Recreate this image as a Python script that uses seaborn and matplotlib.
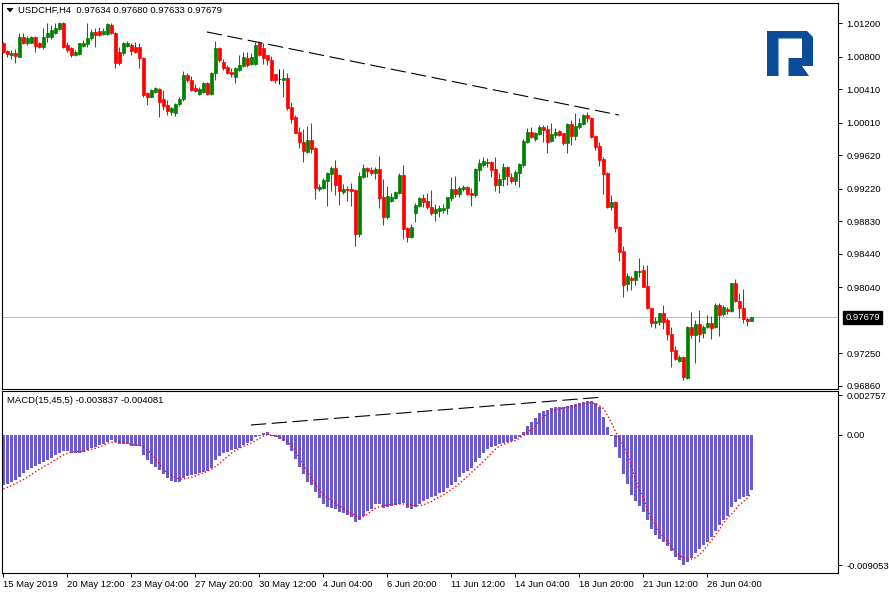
import matplotlib
matplotlib.use("Agg")
import numpy as np
import pandas as pd
import matplotlib.pyplot as plt
from matplotlib.patches import Polygon
import seaborn as sns

# ---------------------------------------------------------------
# DATA  (USDCHF H4, one value per bar)
# ---------------------------------------------------------------
SYMBOL = "USDCHF,H4"

OPEN = [
    1.00968, 1.00872, 1.00820, 1.00841, 1.00800, 1.01039, 1.00960, 1.00968, 1.01032, 1.00960,
    1.00920, 1.01032, 1.01039, 1.01080, 1.01128, 1.01207, 1.00940, 1.00900, 1.00820, 1.00832,
    1.00928, 1.00952, 1.01020, 1.01099, 1.01111, 1.01072, 1.01072, 1.01180, 1.01087, 1.00860,
    1.00841, 1.00928, 1.00940, 1.00920, 1.00920, 1.00781, 1.00361, 1.00321, 1.00380, 1.00409,
    1.00289, 1.00221, 1.00141, 1.00122, 1.00233, 1.00289, 1.00581, 1.00521, 1.00421, 1.00353,
    1.00380, 1.00488, 1.00353, 1.00601, 1.00900, 1.00740, 1.00680, 1.00620, 1.00560, 1.00640,
    1.00688, 1.00781, 1.00712, 1.00712, 1.00960, 1.00900, 1.00820, 1.00760, 1.00593, 1.00529,
    1.00521, 1.00541, 1.00194, 1.00074, 0.99901, 0.99781, 0.99662, 0.99802, 0.99702, 0.99215,
    0.99223, 0.99311, 0.99395, 0.99470, 0.99383, 0.99182, 0.99211, 0.99215, 0.99203, 0.98676,
    0.99355, 0.99470, 0.99442, 0.99410, 0.99454, 0.99123, 0.98876, 0.99071, 0.99111, 0.99171,
    0.99383, 0.98751, 0.98636, 0.98924, 0.99011, 0.99103, 0.99071, 0.98996, 0.98931, 0.98955,
    0.98963, 0.98984, 0.99111, 0.99215, 0.99155, 0.99215, 0.99242, 0.99171, 0.99143, 0.99442,
    0.99502, 0.99530, 0.99542, 0.99454, 0.99263, 0.99331, 0.99482, 0.99362, 0.99311, 0.99410,
    0.99502, 0.99781, 0.99894, 0.99810, 0.99874, 0.99961, 0.99930, 0.99793, 0.99862, 0.99910,
    0.99882, 0.99770, 0.99994, 0.99850, 0.99961, 0.99994, 1.00101, 1.00062, 0.99850, 0.99730,
    0.99571, 0.99410, 0.99003, 0.99063, 0.98763, 0.98472, 0.98077, 0.98145, 0.98125, 0.98224,
    0.98244, 0.98053, 0.97786, 0.97606, 0.97625, 0.97726, 0.97645, 0.97478, 0.97286, 0.97158,
    0.97206, 0.96947, 0.97558, 0.97466, 0.97598, 0.97493, 0.97558, 0.97606, 0.97558, 0.97825,
    0.97717, 0.97777, 0.97757, 0.98085, 0.97873, 0.97786, 0.97657, 0.97634,
]
HIGH = [
    1.00979, 1.00880, 1.00880, 1.00888, 1.01080, 1.01087, 1.01048, 1.01048, 1.01048, 1.00979,
    1.01140, 1.01207, 1.01180, 1.01207, 1.01219, 1.01219, 1.00979, 1.00920, 1.00880, 1.00968,
    1.01000, 1.01200, 1.01128, 1.01140, 1.01159, 1.01140, 1.01207, 1.01200, 1.01099, 1.00920,
    1.00979, 1.00991, 1.00968, 1.00979, 1.00960, 1.00793, 1.00380, 1.00409, 1.00433, 1.00421,
    1.00401, 1.00281, 1.00201, 1.00242, 1.00313, 1.00632, 1.00601, 1.00569, 1.00473, 1.00433,
    1.00500, 1.00500, 1.00620, 1.00991, 1.00920, 1.00769, 1.00700, 1.00661, 1.00680, 1.00820,
    1.00860, 1.00860, 1.00841, 1.00979, 1.00991, 1.00968, 1.00820, 1.00808, 1.00593, 1.00649,
    1.00649, 1.00608, 1.00261, 1.00101, 0.99958, 0.99934, 0.99970, 1.00002, 0.99714, 0.99271,
    0.99343, 0.99422, 0.99490, 0.99562, 0.99395, 0.99271, 0.99254, 0.99283, 0.99211, 0.99422,
    0.99514, 0.99482, 0.99482, 0.99482, 0.99610, 0.99331, 0.99251, 0.99171, 0.99194, 0.99410,
    0.99502, 0.98763, 0.98796, 0.99044, 0.99115, 0.99155, 0.99171, 0.99203, 0.99035, 0.99023,
    0.99035, 0.99123, 0.99362, 0.99371, 0.99251, 0.99263, 0.99251, 0.99223, 0.99463, 0.99571,
    0.99595, 0.99583, 0.99554, 0.99595, 0.99403, 0.99523, 0.99490, 0.99403, 0.99442, 0.99530,
    0.99810, 0.99942, 0.99954, 0.99901, 0.99982, 0.99982, 0.99982, 1.00009, 0.99942, 0.99922,
    0.99889, 1.00009, 1.00041, 1.00129, 1.00062, 1.00113, 1.00141, 1.00074, 0.99862, 0.99781,
    0.99595, 0.99422, 0.99143, 0.99075, 0.98772, 0.98532, 0.98212, 0.98173, 0.98244, 0.98385,
    0.98304, 0.98304, 0.97790, 0.97685, 0.97733, 0.97825, 0.97666, 0.97558, 0.97334, 0.97226,
    0.97214, 0.97574, 0.97745, 0.97645, 0.97765, 0.97586, 0.97705, 0.97693, 0.97853, 0.97853,
    0.97825, 0.97805, 0.98092, 0.98133, 0.97965, 0.98013, 0.97685, 0.97680,
]
LOW = [
    1.00841, 1.00800, 1.00772, 1.00728, 1.00793, 1.00952, 1.00940, 1.00960, 1.00860, 1.00900,
    1.00888, 1.00979, 1.01008, 1.01072, 1.01120, 1.00900, 1.00860, 1.00800, 1.00808, 1.00820,
    1.00920, 1.00920, 1.01000, 1.00912, 1.01048, 1.01060, 1.01060, 1.01072, 1.00661, 1.00700,
    1.00820, 1.00920, 1.00820, 1.00848, 1.00661, 1.00321, 1.00221, 1.00313, 1.00369, 1.00081,
    1.00161, 1.00101, 1.00101, 1.00089, 1.00209, 1.00273, 1.00500, 1.00392, 1.00380, 1.00341,
    1.00369, 1.00341, 1.00341, 1.00521, 1.00740, 1.00640, 1.00593, 1.00553, 1.00488, 1.00632,
    1.00680, 1.00680, 1.00700, 1.00700, 1.00808, 1.00712, 1.00700, 1.00512, 1.00481, 1.00473,
    1.00313, 1.00161, 1.00002, 0.99886, 0.99706, 0.99542, 0.99650, 0.99643, 0.99091, 0.99194,
    0.99211, 0.99011, 0.99194, 0.99143, 0.99023, 0.99155, 0.99075, 0.99011, 0.98532, 0.98636,
    0.99343, 0.99362, 0.99383, 0.99331, 0.98984, 0.98784, 0.98852, 0.99063, 0.99099, 0.99155,
    0.98612, 0.98583, 0.98624, 0.98823, 0.99003, 0.98996, 0.98972, 0.98903, 0.98835, 0.98883,
    0.98924, 0.98915, 0.99075, 0.99115, 0.99115, 0.99194, 0.99143, 0.99011, 0.99115, 0.99314,
    0.99475, 0.99475, 0.99355, 0.99194, 0.99171, 0.99251, 0.99263, 0.99290, 0.99263, 0.99242,
    0.99475, 0.99770, 0.99822, 0.99793, 0.99862, 0.99781, 0.99650, 0.99781, 0.99822, 0.99850,
    0.99742, 0.99650, 0.99742, 0.99802, 0.99930, 0.99982, 1.00021, 0.99822, 0.99682, 0.99490,
    0.99155, 0.98993, 0.98963, 0.98703, 0.98356, 0.97917, 0.97996, 0.98005, 0.98065, 0.98164,
    0.98037, 0.97780, 0.97558, 0.97546, 0.97586, 0.97534, 0.97406, 0.97086, 0.97166, 0.97146,
    0.96927, 0.96939, 0.97426, 0.97134, 0.97385, 0.97426, 0.97546, 0.97414, 0.97546, 0.97454,
    0.97693, 0.97717, 0.97745, 0.97865, 0.97666, 0.97613, 0.97574, 0.97633,
]
CLOSE = [
    1.00860, 1.00832, 1.00841, 1.00808, 1.01039, 1.00960, 1.01020, 1.01032, 1.00928, 1.00912,
    1.01039, 1.01080, 1.01120, 1.01140, 1.01207, 1.00920, 1.00880, 1.00820, 1.00860, 1.00960,
    1.00968, 1.01020, 1.01099, 1.01060, 1.01060, 1.01111, 1.01192, 1.01080, 1.00728, 1.00728,
    1.00960, 1.00968, 1.00872, 1.00860, 1.00781, 1.00341, 1.00321, 1.00401, 1.00421, 1.00261,
    1.00209, 1.00153, 1.00182, 1.00233, 1.00289, 1.00581, 1.00521, 1.00401, 1.00392, 1.00409,
    1.00488, 1.00353, 1.00608, 1.00900, 1.00760, 1.00661, 1.00608, 1.00593, 1.00661, 1.00700,
    1.00800, 1.00700, 1.00800, 1.00940, 1.00820, 1.00781, 1.00760, 1.00521, 1.00521, 1.00529,
    1.00541, 1.00182, 1.00050, 0.99889, 0.99781, 0.99674, 0.99802, 0.99690, 0.99223, 0.99242,
    0.99323, 0.99410, 0.99470, 0.99263, 0.99191, 0.99215, 0.99199, 0.99191, 0.98676, 0.99371,
    0.99463, 0.99430, 0.99403, 0.99454, 0.99111, 0.98883, 0.99131, 0.99115, 0.99182, 0.99383,
    0.98739, 0.98643, 0.98763, 0.99023, 0.99103, 0.99063, 0.98996, 0.98931, 0.98975, 0.98984,
    0.98984, 0.99115, 0.99211, 0.99155, 0.99223, 0.99242, 0.99155, 0.99143, 0.99454, 0.99523,
    0.99554, 0.99542, 0.99442, 0.99263, 0.99335, 0.99482, 0.99371, 0.99311, 0.99422, 0.99514,
    0.99793, 0.99894, 0.99834, 0.99882, 0.99954, 0.99922, 0.99781, 0.99874, 0.99901, 0.99862,
    0.99770, 0.99994, 0.99850, 0.99970, 1.00009, 1.00101, 1.00062, 0.99841, 0.99722, 0.99562,
    0.99395, 0.99003, 0.99063, 0.98751, 0.98464, 0.98065, 0.98173, 0.98125, 0.98232, 0.98236,
    0.98044, 0.97786, 0.97606, 0.97633, 0.97726, 0.97625, 0.97478, 0.97278, 0.97175, 0.97206,
    0.96959, 0.97558, 0.97466, 0.97598, 0.97478, 0.97565, 0.97606, 0.97546, 0.97825, 0.97705,
    0.97798, 0.97757, 0.98085, 0.97873, 0.97786, 0.97654, 0.97637, 0.97679,
]

MACD_PARAMS = (15, 45, 5)
MACD_MAIN = [
    -0.003480, -0.003434, -0.003294, -0.003132, -0.002900, -0.002668, -0.002436, -0.002274, -0.002158, -0.002042,
    -0.001902, -0.001740, -0.001578, -0.001392, -0.001276, -0.001090, -0.001114, -0.001230, -0.001230, -0.001230,
    -0.001160, -0.001067, -0.000928, -0.000812, -0.000696, -0.000603, -0.000464, -0.000371, -0.000510, -0.000650,
    -0.000650, -0.000650, -0.000766, -0.000766, -0.000766, -0.001392, -0.001740, -0.002018, -0.002204, -0.002436,
    -0.002738, -0.003016, -0.003178, -0.003294, -0.003294, -0.003016, -0.002830, -0.002784, -0.002714, -0.002668,
    -0.002598, -0.002506, -0.002274, -0.001740, -0.001462, -0.001276, -0.001160, -0.001044, -0.000974, -0.000882,
    -0.000696, -0.000580, -0.000418, -0.000116, -0.000046, 0.000116, 0.000186, -0.000046, -0.000162, -0.000278,
    -0.000418, -0.000696, -0.001090, -0.001670, -0.002204, -0.002738, -0.003248, -0.003480, -0.003990, -0.004408,
    -0.004802, -0.004988, -0.005058, -0.005150, -0.005336, -0.005452, -0.005568, -0.005684, -0.006078, -0.005916,
    -0.005614, -0.005290, -0.005150, -0.004826, -0.004826, -0.005058, -0.004988, -0.004918, -0.004872, -0.004826,
    -0.004756, -0.005104, -0.005150, -0.004988, -0.004826, -0.004594, -0.004454, -0.004292, -0.004222, -0.004060,
    -0.003944, -0.003712, -0.003480, -0.003248, -0.002900, -0.002668, -0.002506, -0.002320, -0.001902, -0.001578,
    -0.001230, -0.000974, -0.000812, -0.000742, -0.000650, -0.000580, -0.000464, -0.000418, -0.000278, -0.000162,
    0.000232, 0.000650, 0.000928, 0.001206, 0.001508, 0.001670, 0.001740, 0.001856, 0.001949, 0.001949,
    0.001972, 0.002042, 0.002088, 0.002134, 0.002204, 0.002320, 0.002390, 0.002400, 0.002204, 0.001972,
    0.001276, 0.000580, -0.000046, -0.000812, -0.001624, -0.002738, -0.003434, -0.004176, -0.004594, -0.004918,
    -0.005336, -0.005916, -0.006542, -0.006960, -0.007238, -0.007424, -0.007702, -0.008074, -0.008468, -0.008700,
    -0.009053, -0.008816, -0.008584, -0.008236, -0.007934, -0.007656, -0.007424, -0.007076, -0.006682, -0.006264,
    -0.005916, -0.005614, -0.004988, -0.004686, -0.004454, -0.004292, -0.004222, -0.003837,
]
MACD_SIGNAL = [
    -0.003758, -0.003642, -0.003526, -0.003387, -0.003248, -0.003109, -0.002946, -0.002761, -0.002575, -0.002390,
    -0.002227, -0.002065, -0.001902, -0.001740, -0.001554, -0.001392, -0.001276, -0.001206, -0.001160, -0.001137,
    -0.001114, -0.001067, -0.000998, -0.000928, -0.000835, -0.000719, -0.000580, -0.000510, -0.000487, -0.000464,
    -0.000510, -0.000580, -0.000650, -0.000696, -0.000719, -0.000812, -0.001044, -0.001322, -0.001624, -0.001995,
    -0.002366, -0.002645, -0.002830, -0.002970, -0.003062, -0.003062, -0.003016, -0.002946, -0.002854, -0.002738,
    -0.002645, -0.002529, -0.002390, -0.002204, -0.001995, -0.001740, -0.001508, -0.001276, -0.001090, -0.000928,
    -0.000789, -0.000673, -0.000557, -0.000418, -0.000232, -0.000070, 0.000023, 0.000000, -0.000046, -0.000139,
    -0.000278, -0.000464, -0.000696, -0.001114, -0.001578, -0.002088, -0.002552, -0.003016, -0.003434, -0.003828,
    -0.004176, -0.004362, -0.004594, -0.004756, -0.004918, -0.005104, -0.005290, -0.005452, -0.005614, -0.005754,
    -0.005684, -0.005522, -0.005290, -0.005104, -0.004988, -0.004918, -0.004872, -0.004826, -0.004802, -0.004802,
    -0.004802, -0.004826, -0.004872, -0.004918, -0.004918, -0.004872, -0.004733, -0.004640, -0.004454, -0.004315,
    -0.004176, -0.003990, -0.003805, -0.003596, -0.003387, -0.003132, -0.002900, -0.002622, -0.002366, -0.002111,
    -0.001856, -0.001578, -0.001276, -0.000998, -0.000789, -0.000650, -0.000557, -0.000464, -0.000394, -0.000232,
    -0.000046, 0.000162, 0.000394, 0.000580, 0.000974, 0.001253, 0.001485, 0.001624, 0.001740, 0.001810,
    0.001879, 0.001926, 0.001972, 0.002042, 0.002088, 0.002158, 0.002204, 0.002250, 0.002181, 0.002042,
    0.001856, 0.001392, 0.000882, 0.000278, -0.000278, -0.000696, -0.001392, -0.002088, -0.003062, -0.003828,
    -0.004362, -0.005150, -0.005800, -0.006218, -0.006728, -0.007076, -0.007378, -0.007772, -0.008074, -0.008352,
    -0.008538, -0.008630, -0.008630, -0.008538, -0.008352, -0.008050, -0.007702, -0.007378, -0.006960, -0.006612,
    -0.006148, -0.005800, -0.005522, -0.005220, -0.004872, -0.004640, -0.004408, -0.004081,
]

PRICE_TICKS = [1.01200, 1.00800, 1.00410, 1.00010, 0.99620, 0.99220,
               0.98830, 0.98440, 0.98040, 0.97250, 0.96860]
MACD_TICKS = [0.002757, 0.0, -0.009053]
MACD_TICK_LABELS = ["0.002757", "0.00", "-0.009053"]

DATE_STEP = 16
DATE_LABELS = ["15 May 2019", "20 May 12:00", "23 May 04:00", "27 May 20:00",
               "30 May 12:00", "4 Jun 04:00", "6 Jun 20:00", "11 Jun 12:00",
               "14 Jun 04:00", "18 Jun 20:00", "21 Jun 12:00", "26 Jun 04:00"]

# hand drawn trend lines (bar index, value)
PRICE_TREND_BARS = [50.9, 153.9]
PRICE_TREND_VALUES = [1.01096, 1.00101]
MACD_TREND_BARS = [61.9, 150.2]
MACD_TREND_VALUES = [0.000696, 0.002645]

# ---------------------------------------------------------------
# STYLE
# ---------------------------------------------------------------
sns.set_theme(style="white")
plt.rcParams.update({
    "font.family": ["Liberation Sans", "DejaVu Sans"],
    "font.size": 6.8,
    "lines.scale_dashes": False,
    "axes.edgecolor": "black",
    "axes.linewidth": 0.8,
    "xtick.color": "black",
    "ytick.color": "black",
})

BULL = "#008000"
BEAR = "#ff0000"
HIST = "#6a5acd"
W, H = 889, 594


def frac(x0, y0, x1, y1):
    return [x0 / W, 1 - y1 / H, (x1 - x0) / W, (y1 - y0) / H]


df = pd.DataFrame({"open": OPEN, "high": HIGH, "low": LOW, "close": CLOSE,
                   "macd": MACD_MAIN, "signal": MACD_SIGNAL})
df["bar"] = np.arange(len(df))
df["color"] = np.where(df["close"] > df["open"], BULL,
                       np.where(df["close"] < df["open"], BEAR, "black"))

fig = plt.figure(figsize=(W / 100, H / 100), dpi=100)
fig.patch.set_facecolor("white")
ax = fig.add_axes(frac(2, 3, 838, 389))
ax2 = fig.add_axes(frac(2, 391, 838, 573), sharex=ax)

# --- candles
ax.vlines(df["bar"], df["low"], df["high"], colors=df["color"], lw=0.75, zorder=3)
body_lo = df[["open", "close"]].min(axis=1)
body_h = (df["close"] - df["open"]).abs()
ax.bar(df["bar"], body_h, bottom=body_lo, width=0.68, color=df["color"],
       edgecolor=df["color"], linewidth=0.5, zorder=4)

# current price line + label
last_close = CLOSE[-1]
ax.axhline(last_close, color="#c0c0c0", lw=0.8, zorder=1)
ax.text(1.009, last_close, f"{last_close:.5f}", transform=ax.get_yaxis_transform(),
        color="white", fontsize=6.8, va="center", ha="left", clip_on=False,
        bbox=dict(boxstyle="square,pad=0.22", fc="black", ec="black"), zorder=10)

# trend line
ax.plot(PRICE_TREND_BARS, PRICE_TREND_VALUES, color="black", lw=0.8,
        linestyle=(0, (11, 4)), zorder=5)

ax.set_ylim(0.96819, 1.01443)
ax.yaxis.tick_right()
ax.set_yticks(PRICE_TICKS)
ax.set_yticklabels([f"{v:.5f}" for v in PRICE_TICKS])
ax.tick_params(axis="y", direction="out", length=3, width=0.7, pad=3,
               labelsize=6.8, right=True, left=False)
ax.tick_params(axis="x", bottom=False, labelbottom=False)
ax.set_xlabel("")
ax.set_ylabel("")

# --- MACD
sns.barplot(data=df, x="bar", y="macd", native_scale=True, color=HIST,
            saturation=1, width=0.72, errorbar=None, linewidth=0, ax=ax2)
sns.lineplot(data=df, x="bar", y="signal", color="#ff0000", lw=1.0,
             linestyle=(0, (1.0, 1.6)), ax=ax2, zorder=5)
ax2.plot(MACD_TREND_BARS, MACD_TREND_VALUES, color="black", lw=0.8,
         linestyle=(0, (11, 4)), zorder=6)

ax2.set_ylim(-0.009605, 0.003062)
ax2.yaxis.tick_right()
ax2.set_yticks(MACD_TICKS)
ax2.set_yticklabels(MACD_TICK_LABELS)
ax2.tick_params(axis="y", direction="out", length=3, width=0.7, pad=3,
                labelsize=6.8, right=True, left=False)

date_pos = np.arange(0, len(df), DATE_STEP)[:len(DATE_LABELS)]
ax2.set_xticks(date_pos)
ax2.set_xticklabels(DATE_LABELS)
ax2.tick_params(axis="x", direction="out", length=3, width=0.7, pad=2,
                labelsize=6.8, bottom=True)
for lab in ax2.get_xticklabels():
    lab.set_ha("left")
ax2.set_xlabel("")
ax2.set_ylabel("")
ax2.set_xlim(-0.33, 208.7)

for a in (ax, ax2):
    for s in a.spines.values():
        s.set_visible(True)
        s.set_color("black")
        s.set_linewidth(0.8)

# --- overlay: header, indicator label, logo
ov = fig.add_axes([0, 0, 1, 1])
ov.set_xlim(0, W)
ov.set_ylim(H, 0)
ov.axis("off")
ov.patch.set_alpha(0)

ov.add_patch(Polygon([(7, 8.3), (13, 8.3), (10, 11.8)], closed=True,
                     fc="black", ec="black", lw=0.5))
ov.text(18, 10.5, f"{SYMBOL}  {OPEN[-1]:.5f} {HIGH[-1]:.5f} {LOW[-1]:.5f} {CLOSE[-1]:.5f}",
        fontsize=6.8, va="center", ha="left", color="black")
ov.text(7, 400.5, f"MACD{MACD_PARAMS}".replace(" ", "") +
        f" {MACD_MAIN[-1]:.6f} {MACD_SIGNAL[-1]:.6f}",
        fontsize=6.8, va="center", ha="left", color="black")

logo = [(767, 31), (807, 31), (813, 37), (813, 66), (802, 66), (809, 76),
        (788.5, 76), (788.5, 58), (802, 58), (802, 38.5), (778.5, 38.5),
        (778.5, 76), (767, 76)]
ov.add_patch(Polygon(logo, closed=True, fc="#0b4c97", ec="none"))

fig.savefig("out.png", dpi=100, facecolor="white")
